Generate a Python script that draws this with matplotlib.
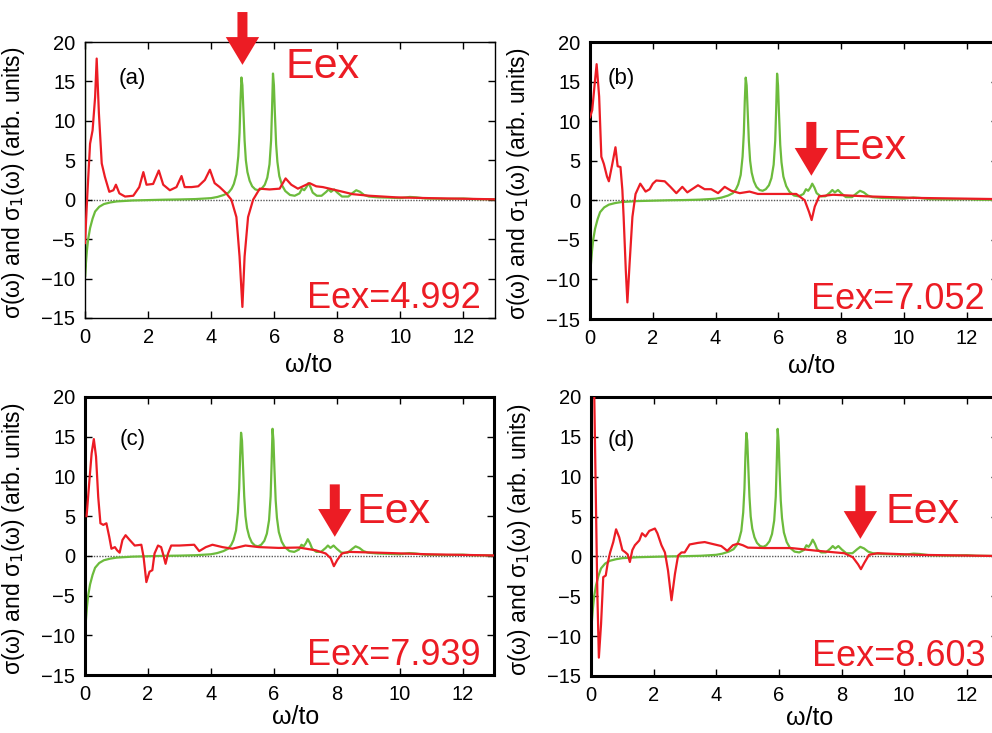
import matplotlib
matplotlib.use("Agg")
import matplotlib.pyplot as plt
from matplotlib.patches import FancyArrowPatch, ArrowStyle

plt.rcParams['font.family'] = ['Liberation Sans', 'DejaVu Sans']

# green curve, same in all four panels
green_x = [0.00, 0.03, 0.06, 0.10, 0.16, 0.24, 0.32, 0.45, 0.60, 0.80, 1.0, 1.5, 2.0, 2.5,
           3.0, 3.5, 3.8, 4.0, 4.2, 4.4, 4.55, 4.65, 4.72, 4.80, 4.86, 4.90, 4.93, 4.96,
           4.99, 5.02, 5.06, 5.10, 5.15, 5.22, 5.30, 5.40, 5.50, 5.60, 5.70, 5.78, 5.85,
           5.90, 5.93, 5.96, 5.99, 6.02, 6.06, 6.10, 6.16, 6.25, 6.35, 6.50, 6.65, 6.80,
           6.88, 6.95, 7.02, 7.08, 7.15, 7.22, 7.35, 7.50, 7.65, 7.72, 7.80, 7.90, 8.00,
           8.15, 8.35, 8.50, 8.60, 8.72, 8.85, 9.0, 9.3, 9.7, 10.0, 10.3, 10.5, 10.8,
           11.5, 12.0, 12.3, 13.0]
green_y = [-9.8, -8.0, -6.5, -5.0, -3.6, -2.4, -1.5, -0.9, -0.55, -0.35, -0.22, -0.1, -0.05, 0.0,
           0.03, 0.08, 0.15, 0.2, 0.35, 0.6, 0.9, 1.4, 2.0, 3.2, 5.5, 8.5, 12.5, 15.5,
           14.5, 11.5, 7.5, 5.0, 3.5, 2.4, 1.7, 1.3, 1.2, 1.4, 1.9, 2.8, 4.5,
           7.5, 11.5, 16.0, 14.5, 11.0, 7.0, 4.8, 3.0, 1.8, 1.1, 0.6, 0.5, 0.8,
           1.4, 1.2, 1.6, 2.1, 1.6, 0.9, 0.5, 0.5, 1.0, 1.3, 1.0, 1.3, 0.9,
           0.4, 0.4, 0.9, 1.2, 1.0, 0.6, 0.4, 0.3, 0.25, 0.2, 0.35, 0.3, 0.15,
           0.1, 0.15, 0.08, 0.05]

# red curves, one per panel
red_a_x = [0.0, 0.07, 0.16, 0.24, 0.32, 0.37, 0.44, 0.53, 0.63, 0.77, 0.90, 0.98, 1.09, 1.27,
           1.53, 1.72, 1.85, 1.95, 2.16, 2.34, 2.48, 2.69, 2.90, 3.06, 3.16, 3.38, 3.59,
           3.80, 3.96, 4.11, 4.27, 4.48, 4.64, 4.80, 4.90, 4.99, 5.06, 5.17, 5.33, 5.54,
           5.85, 6.17, 6.36, 6.54, 6.75, 7.12, 7.33, 7.54, 7.86, 8.18, 8.49, 9.02, 9.86,
           10.9, 13.0]
red_a_y = [-5.5, 0.4, 7.1, 8.8, 13.0, 17.9, 11.0, 4.6, 2.9, 1.0, 1.2, 1.9, 0.8, 0.4,
           0.5, 1.6, 3.5, 1.9, 2.0, 3.7, 1.9, 1.2, 1.6, 3.0, 1.6, 1.6, 1.7,
           2.5, 3.8, 2.1, 1.6, 0.8, 0.0, -2.2, -7.2, -13.6, -7.2, -2.2, 0.0, 1.4,
           1.3, 1.4, 2.7, 1.9, 1.4, 2.1, 1.7, 1.6, 1.3, 1.0, 0.7, 0.5, 0.3,
           0.2, 0.05]

red_b_x = [0.0, 0.07, 0.15, 0.21, 0.29, 0.36, 0.44, 0.54, 0.60, 0.71, 0.81, 0.88, 0.97, 1.03,
           1.07, 1.14, 1.19, 1.26, 1.35, 1.45, 1.60, 1.77, 1.90, 2.00, 2.11, 2.38, 2.56,
           2.75, 2.94, 3.10, 3.44, 3.65, 3.86, 4.08, 4.29, 4.50, 4.77, 5.08, 5.35, 5.72,
           6.25, 6.57, 6.84, 6.98, 7.06, 7.16, 7.30, 7.74, 8.80, 10.4, 13.0]
red_b_y = [10.5, 11.4, 14.8, 17.2, 13.1, 5.5, 4.6, 3.0, 2.4, 4.6, 6.7, 4.3, 4.2, 1.3,
           -2.1, -8.9, -12.9, -8.0, -2.1, 0.8, 2.1, 1.1, 1.4, 2.1, 2.5, 2.4, 1.7,
           0.9, 1.7, 1.0, 1.9, 1.4, 1.4, 0.9, 1.7, 1.2, 0.9, 1.1, 0.8, 0.8,
           0.8, 0.8, 0.0, -1.5, -2.5, -0.8, 0.5, 0.7, 0.5, 0.3, 0.15]

red_c_x = [0.05, 0.14, 0.21, 0.28, 0.35, 0.42, 0.49, 0.58, 0.68, 0.77, 0.84, 0.95, 1.02, 1.10,
           1.19, 1.29, 1.42, 1.58, 1.79, 1.86, 1.95, 2.05, 2.14, 2.21, 2.32, 2.42, 2.49,
           2.56, 2.64, 2.74, 3.00, 3.47, 3.63, 3.84, 4.05, 4.37, 4.68, 5.10, 5.53, 6.16,
           6.80, 7.33, 7.65, 7.81, 7.91, 8.02, 8.17, 8.38, 9.33, 10.9, 13.0]
red_c_y = [5.0, 9.5, 12.9, 14.7, 12.5, 7.4, 4.1, 3.9, 4.1, 2.4, 0.9, 1.1, 0.7, 0.4,
           2.0, 2.6, 2.0, 1.3, 1.4, -0.1, -3.3, -2.0, -1.8, 0.3, 1.3, 1.1, 0.1,
           -1.0, 0.3, 1.3, 1.3, 1.4, 0.6, 1.1, 1.4, 1.1, 0.9, 1.3, 1.1, 1.0,
           1.05, 0.7, 0.3, -0.3, -1.3, -0.5, 0.3, 0.5, 0.4, 0.2, 0.05]

red_d_x = [0.08, 0.15, 0.20, 0.25, 0.32, 0.39, 0.47, 0.53, 0.61, 0.71, 0.80, 0.90, 1.00, 1.10,
           1.17, 1.24, 1.32, 1.40, 1.54, 1.63, 1.74, 1.86, 2.04, 2.12, 2.25, 2.36, 2.46,
           2.57, 2.68, 2.78, 2.89, 2.99, 3.15, 3.42, 3.63, 3.84, 4.16, 4.35, 4.53, 4.69,
           4.85, 5.01, 5.54, 6.39, 7.24, 8.09, 8.36, 8.53, 8.62, 8.73, 8.88, 9.15, 10.4,
           13.0]
red_d_y = [26.0, 8.3, -4.3, -12.7, -8.5, -2.6, -2.4, -0.9, 0.5, 1.8, 3.4, 2.4, 0.8, 0.5,
           0.25, -0.7, 0.8, 1.4, 2.0, 2.9, 2.5, 3.2, 3.5, 2.9, 1.4, 0.5, -1.8,
           -5.5, -2.2, 0.1, 0.5, 0.5, 1.5, 1.7, 1.8, 1.6, 1.3, 0.7, 1.4, 1.6,
           1.4, 1.1, 1.05, 1.05, 0.7, 0.4, -0.1, -1.0, -1.6, -0.8, 0.2, 0.4, 0.2,
           0.05]

panel_tags = ['(a)', '(b)', '(c)', '(d)']
eex_values = [4.992, 7.052, 7.939, 8.603]
red_curves = [(red_a_x, red_a_y), (red_b_x, red_b_y), (red_c_x, red_c_y), (red_d_x, red_d_y)]

RED = '#ec1c24'
GREEN = '#6cbb3c'

# layout (figure fractions), per panel
axes_pos = [[0.0857, 0.5662, 0.4133, 0.3765],
            [0.5948, 0.5648, 0.4113, 0.3779],
            [0.0857, 0.0791, 0.4123, 0.3793],
            [0.5958, 0.0778, 0.4103, 0.3806]]
frame_lw = [1.0, 2.2, 2.2, 2.2]
tag_x = [1.5, 1.0, 1.5, 0.97]
tag_y = [15.4, 15.4, 14.6, 14.6]
big_eex_xy = [(6.36, 15.4), (7.71, 5.16), (8.64, 4.13), (9.39, 4.13)]
arrow_y = [(23.8, 17.1), (9.9, 3.1), (9.0, 2.4), (8.9, 2.2)]
xlab_xy = [(0.546, -0.17), (0.544, -0.17), (0.516, -0.152), (0.538, -0.152)]

fig = plt.figure(figsize=(9.92, 7.33), dpi=100)

for i in range(4):
    ax = fig.add_axes(axes_pos[i])
    ax.axhline(0, color='0.35', lw=1.0, ls=(0, (1, 1)), zorder=1)
    gx, gy = green_x, green_y
    if i == 0:
        gx = [0.0] + green_x
        gy = [25.0] + green_y
    ax.plot(gx, gy, color=GREEN, lw=1.6, zorder=2)
    rx, ry = red_curves[i]
    ax.plot(rx, ry, color=RED, lw=1.6, zorder=3)

    ax.set_xlim(0, 13)
    ax.set_ylim(-15, 20)
    ax.set_xticks(range(0, 13, 2))
    ax.set_yticks(range(-15, 21, 5))
    ax.tick_params(direction='in', top=True, right=True, length=5, width=1,
                   labelsize=14.5, pad=7)
    for s in ax.spines.values():
        s.set_linewidth(frame_lw[i])

    ax.set_ylabel('σ(ω) and σ$_1$(ω) (arb. units)', fontsize=16.5)
    ax.yaxis.set_label_coords(-0.1415, 0.49)
    ax.set_xlabel('ω/to', fontsize=18, va='center')
    ax.xaxis.set_label_coords(*xlab_xy[i])

    ax.text(tag_x[i], tag_y[i], panel_tags[i], fontsize=16, ha='center', va='center')
    ax.text(big_eex_xy[i][0], big_eex_xy[i][1], 'Eex', color=RED, fontsize=31,
            ha='left', va='baseline')
    ax.text(7.05, -13.7, 'Eex=%.3f' % eex_values[i], color=RED, fontsize=26,
            ha='left', va='baseline')

    arr = FancyArrowPatch((eex_values[i], arrow_y[i][0]), (eex_values[i], arrow_y[i][1]),
                          arrowstyle=ArrowStyle.Simple(head_length=20, head_width=24, tail_width=7.2),
                          mutation_scale=1, shrinkA=0, shrinkB=0, color=RED, lw=0,
                          clip_on=False, zorder=5)
    ax.add_patch(arr)

fig.savefig('out.png', dpi=100)
